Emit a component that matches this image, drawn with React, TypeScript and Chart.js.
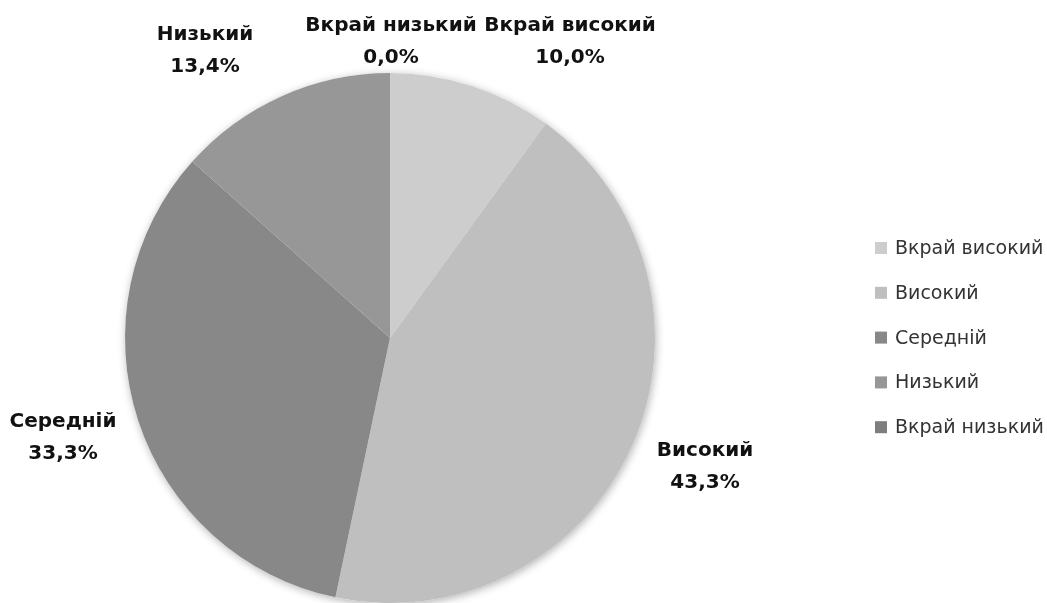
import React, { useEffect, useRef } from "react";
import { Chart, registerables } from "chart.js";

Chart.register(...registerables);

const categories = ["Вкрай високий", "Високий", "Середній", "Низький", "Вкрай низький"];
const values = [10.0, 43.3, 33.3, 13.4, 0.0];
const valueLabels = ["10,0%", "43,3%", "33,3%", "13,4%", "0,0%"];
const colors = ["#cdcdcd", "#bfbfbf", "#888888", "#979797", "#7e7e7e"];

const FONT = "'DejaVu Sans', sans-serif";

export default function App() {
  const ref = useRef<HTMLCanvasElement | null>(null);

  useEffect(() => {
    if (!ref.current) return;
    const labelPos: [number, number][] = [
      [570, 26],
      [705, 451],
      [63, 422],
      [205, 35],
      [391, 26],
    ];
    const overlay = {
      id: "overlay",
      beforeDatasetsDraw(chart: any) {
        const meta = chart.getDatasetMeta(0);
        const arc = meta.data[0];
        if (!arc) return;
        const ctx = chart.ctx;
        ctx.save();
        ctx.shadowColor = "rgba(0,0,0,0.3)";
        ctx.shadowBlur = 8;
        ctx.shadowOffsetX = 1;
        ctx.shadowOffsetY = 2;
        ctx.fillStyle = "#ffffff";
        ctx.beginPath();
        ctx.arc(arc.x, arc.y, arc.outerRadius, 0, Math.PI * 2);
        ctx.fill();
        ctx.restore();
      },
      afterDraw(chart: any) {
        const ctx = chart.ctx;
        ctx.save();
        ctx.textAlign = "center";
        ctx.textBaseline = "middle";
        ctx.fillStyle = "#111111";
        ctx.font = `bold 20px ${FONT}`;
        categories.forEach((c, i) => {
          const [x, y] = labelPos[i];
          ctx.fillText(c, x, y);
          ctx.fillText(valueLabels[i], x, y + 32);
        });
        // legend
        ctx.textAlign = "left";
        ctx.font = `19px ${FONT}`;
        categories.forEach((c, i) => {
          const y = 248 + i * 44.8;
          ctx.fillStyle = colors[i];
          ctx.fillRect(875, y - 6, 12, 12);
          ctx.fillStyle = "#333333";
          ctx.fillText(c, 895, y + 1);
        });
        ctx.restore();
      },
    };
    const chart = new Chart(ref.current, {
      type: "pie",
      data: {
        labels: categories,
        datasets: [
          {
            data: values,
            backgroundColor: colors,
            borderColor: "#ffffff",
            borderWidth: 0,
          },
        ],
      },
      options: {
        responsive: false,
        animation: false,
        layout: { padding: { top: 73, bottom: 0, left: 125, right: 392 } },
        plugins: { legend: { display: false }, tooltip: { enabled: false } },
      },
      plugins: [overlay],
    });
    return () => chart.destroy();
  }, []);

  return (
    <div style={{ position: "absolute", left: 0, top: 0, width: 1047, height: 603, background: "#fff" }}>
      <canvas ref={ref} width={1047} height={603} style={{ width: 1047, height: 603 }} />
    </div>
  );
}
